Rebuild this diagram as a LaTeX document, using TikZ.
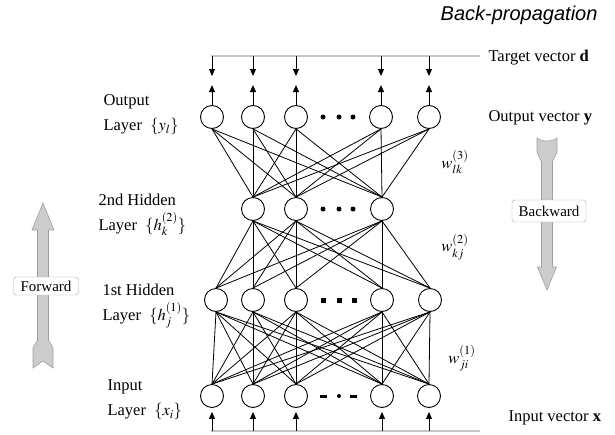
\documentclass[tikz,border=0pt]{standalone}
\usepackage{mathptmx}
\usepackage[no-math]{fontspec}
\setmainfont{Liberation Serif}
\newfontfamily\titlefont{Liberation Sans}
\usetikzlibrary{arrows.meta}
\begin{document}
\begin{tikzpicture}[
  neuron/.style={circle,draw,fill=white,line width=0.9pt,minimum size=23pt,inner sep=0pt},
  wire/.style ={line width=0.8pt},
  arr/.style  ={-{Triangle[length=7pt,width=6pt]},line width=1pt},
  bus/.style  ={gray!45,line width=1.2pt},
  lyr/.style  ={anchor=west,align=left,font=\fontsize{16.5}{25}\selectfont},
  vec/.style  ={anchor=west,font=\fontsize{16.5}{20}\selectfont},
  wt/.style   ={font=\fontsize{16.5}{20}\selectfont},
  blk/.style  ={fill=gray!40,draw=gray!75,line width=0.6pt},
  tag/.style  ={draw=gray!70,fill=white,rounded corners=3pt,inner sep=0pt,
                font=\fontsize{15}{18}\selectfont},
  rdot/.style ={circle,fill,inner sep=0pt,minimum size=5pt},
  sdot/.style ={rectangle,fill,inner sep=0pt,minimum size=5pt},
  ddot/.style ={rectangle,fill,inner sep=0pt,minimum width=7pt,minimum height=3pt},
  x=1pt, y=-1pt
]
\useasboundingbox (0,0) rectangle (615,434);
%% Title
\node[font=\titlefont\itshape\fontsize{20}{24}\selectfont,anchor=east] (title) at (601,15) {Back-propagation};
%% Output layer
\node[neuron] (o1) at (212,117) {};
\node[neuron] (o2) at (253,117) {};
\node[neuron] (o3) at (296,117) {};
\node[neuron] (o4) at (381,117) {};
\node[neuron] (o5) at (429,117) {};
\node[rdot] (od1) at (323,117) {};
\node[rdot] (od2) at (339,117) {};
\node[rdot] (od3) at (353,117) {};
%% 2nd hidden layer
\node[neuron] (b1) at (253,209) {};
\node[neuron] (b2) at (296,209) {};
\node[neuron] (b3) at (382,209) {};
\node[rdot] (bd1) at (323,209) {};
\node[rdot] (bd2) at (339,209) {};
\node[rdot] (bd3) at (353,209) {};
%% 1st hidden layer
\node[neuron] (a1) at (216,300) {};
\node[neuron] (a2) at (253,300) {};
\node[neuron] (a3) at (296,300) {};
\node[neuron] (a4) at (382,300) {};
\node[neuron] (a5) at (430,300) {};
\node[sdot] (ad1) at (323,300) {};
\node[sdot] (ad2) at (339,300) {};
\node[sdot] (ad3) at (354,300) {};
%% Input layer
\node[neuron] (i1) at (212,396) {};
\node[neuron] (i2) at (253,396) {};
\node[neuron] (i3) at (296,396) {};
\node[neuron] (i4) at (382,396) {};
\node[neuron] (i5) at (429,396) {};
\node[ddot] (id1) at (323,396) {};
\node[rdot,minimum size=4pt] (id2) at (339,396) {};
\node[ddot] (id3) at (353,396) {};
%% Target and input lines
\coordinate (tl) at (211,56);  \coordinate (tr) at (480,56);
\coordinate (bl) at (211,431); \coordinate (br) at (480,431);
\draw[bus] (tl) -- (tr);
\draw[bus] (bl) -- (br);
%% Arrows at the output and input
\foreach \n in {o1,o2,o3,o4,o5}{
  \draw[arr] (\n |- tl) -- ++(0,20);
  \draw[arr] (\n.north) -- ++(0,-20);
}
\foreach \n in {i1,i2,i3,i4,i5}
  \draw[arr,shorten >=4pt] (\n |- bl) -- (\n.south);
%% Weights between layers
\foreach \u in {o1,o2,o3,o4,o5} \foreach \l in {b1,b2,b3}
  \draw[wire] (\u.south) -- (\l.north);
\foreach \u in {b1,b2,b3} \foreach \l in {a1,a2,a3,a4,a5}
  \draw[wire] (\u.south) -- (\l.north);
\foreach \u in {a1,a2,a3,a4,a5} \foreach \l in {i1,i2,i3,i4,i5}
  \draw[wire] (\u.south) -- (\l.north);
%% Layer labels
\node[lyr] (lout) at (100,115) {Output\\Layer\enspace$\{y_l\}$};
\node[lyr] (lhtwo) at (95,215) {2nd Hidden\\Layer\enspace$\{h_k^{(2)}\}$};
\node[lyr] (lhone) at (99,306) {1st Hidden\\Layer\enspace$\{h_j^{(1)}\}$};
\node[lyr] (linp) at (104,400) {Input\\Layer\enspace$\{x_i\}$};
%% Vector labels
\node[vec] (vd) at (485,58)  {Target vector \textbf{d}};
\node[vec] (vy) at (485,118) {Output vector \textbf{y}};
\node[vec] (vx) at (505,418) {Input vector \textbf{x}};
%% Weight labels
\node[wt] (w3) at (455,162) {$w_{lk}^{(3)}$};
\node[wt] (w2) at (455,247) {$w_{kj}^{(2)}$};
\node[wt] (w1) at (462,358) {$w_{ji}^{(1)}$};
%% Forward arrow
\draw[blk] (43,203) -- (54,230) -- (48.5,230) -- (48.5,340) -- (53,348) -- (53,368)
  -- (43,361) -- (33,368) -- (33,348) -- (37.5,340) -- (37.5,230) -- (32,230) -- cycle;
\node[tag,minimum width=65pt,minimum height=18pt] (fwd) at (46,286) {Forward};
%% Backward arrow
\draw[blk] (537,138) .. controls (542,142) and (552,142) .. (557,138) -- (557,152)
  -- (552.5,162) -- (552.5,267) -- (556.5,267) -- (547,290) -- (537.5,267)
  -- (541.5,267) -- (541.5,162) -- (537,152) -- cycle;
\node[tag,minimum width=74pt,minimum height=22pt] (bwd) at (549,211) {Backward};
\end{tikzpicture}
\end{document}
